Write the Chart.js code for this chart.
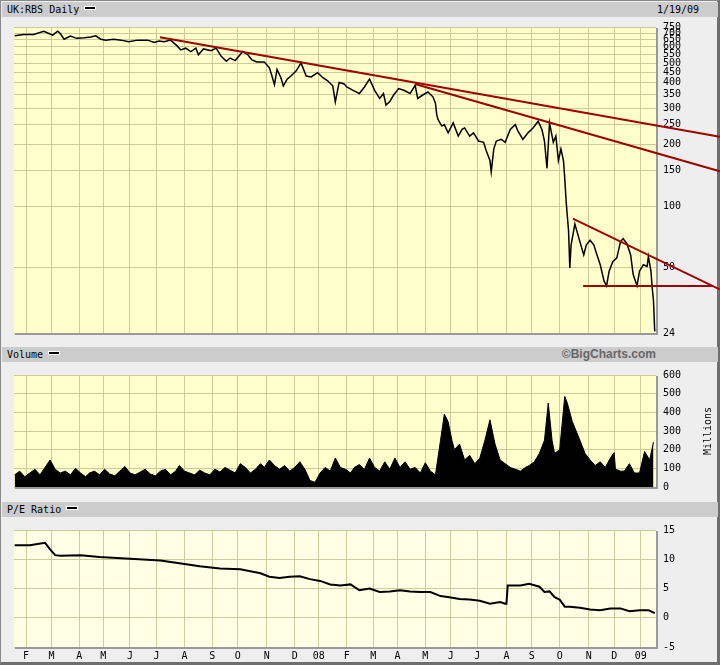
<!DOCTYPE html>
<html>
<head>
<meta charset="utf-8">
<script src="https://cdn.jsdelivr.net/npm/chart.js@4.4.0/dist/chart.umd.min.js"></script>
<style>
  html, body { margin: 0; padding: 0; background: #eeeeee; }
  #wrap { position: relative; width: 720px; height: 665px; overflow: hidden; background: #eeeeee; }
  #frame { position: absolute; left: 0; top: 0; width: 716px; height: 661px;
           border-top: 1px solid #8a8a8a; border-left: 1px solid #8a8a8a;
           border-right: 3px solid #6e6e6e; border-bottom: 3px solid #6e6e6e; }
  .bar { position: absolute; left: 2px; width: 716px; height: 15px; background: #cccccc;
         font: 10px "DejaVu Sans Mono", monospace; color: #000; line-height: 15px; }
  .bar .t { position: absolute; left: 5px; top: 0; white-space: pre; }
  .key { display: inline-block; width: 10px; height: 2px; background: #000; border: 1px solid #fff;
         vertical-align: 3px; margin-left: 5px; }
  .bar .r { position: absolute; top: 0; }
  .brand { font: bold 12px "Liberation Sans", Arial, sans-serif; color: #666; right: 62px; }
  canvas { position: absolute; left: 0; }
</style>
</head>
<body>
<div id="wrap">
  <div id="frame"></div>
  <div class="bar" style="top:2px"><span class="t">UK:RBS Daily<span class="key"></span></span><span class="r" style="left:655px">1/19/09</span></div>
  <canvas id="price" width="720" height="332" style="top:14px"></canvas>
  <div class="bar" style="top:347px"><span class="t">Volume<span class="key"></span></span><span class="r brand">©BigCharts.com</span></div>
  <canvas id="volume" width="720" height="138" style="top:362px"></canvas>
  <div class="bar" style="top:502px"><span class="t">P/E Ratio<span class="key"></span></span></div>
  <canvas id="pe" width="720" height="148" style="top:517px"></canvas>
</div>
<script>
// x axis = trading-day index, 0 = 18 Jan 2007, 506 = 19 Jan 2009
const monthIdx = [10, 30, 52, 71, 92, 113, 135, 157, 177, 200, 222, 241, 263, 284, 303, 325, 345, 366, 389, 409, 431, 454, 474, 495];
const monthLabels = ['F', 'M', 'A', 'M', 'J', 'J', 'A', 'S', 'O', 'N', 'D', '08', 'F', 'M', 'A', 'M', 'J', 'J', 'A', 'S', 'O', 'N', 'D', '09'];

const priceTicks = [24, 50, 100, 150, 200, 250, 300, 350, 400, 450, 500, 550, 600, 650, 700, 750];

const priceIdx = [1, 8, 16, 24, 28, 31, 35, 37, 40, 45, 50, 56, 61, 65, 69, 73, 79, 85, 91, 98, 106, 111, 115, 119, 124,
  129, 132, 136, 140, 144, 146, 150, 156, 160, 164, 168, 171, 175, 181, 185, 188, 192, 198, 202, 204, 206, 208, 211, 213,
  216, 219, 223, 227, 231, 235, 240, 244, 248, 252, 254, 257, 261, 263, 268, 273, 277, 281, 285, 289, 292, 294, 297, 300,
  304, 308, 313, 317, 319, 323, 327, 331, 333, 334, 335, 338, 340, 343, 347, 351, 354, 356, 360, 363, 367, 371, 373, 376,
  377, 379, 381, 385, 388, 392, 396, 398, 402, 406, 410, 414, 417, 419, 421, 423, 426, 428, 430, 432, 434, 435, 436, 437,
  438, 439, 440, 443, 447, 450, 452, 455, 458, 460, 463, 466, 468, 470, 473, 476, 479, 481, 484, 487, 489, 492, 494, 497,
  500, 501, 503, 504, 505, 506];
const priceVal = [679, 689, 689, 715, 697, 684, 715, 697, 654, 677, 660, 664, 671, 679, 654, 647, 654, 647, 635, 647, 647, 631, 640, 635, 647,
  608, 580, 591, 569, 591, 549, 586, 574, 591, 539, 510, 529, 514, 569, 549, 520, 506, 506, 474, 432, 392, 465, 425, 387,
  417, 432, 457, 501, 432, 428, 449, 425, 409, 387, 323, 402, 395, 382, 368, 355, 382, 418, 368, 336, 355, 312, 324, 349,
  375, 368, 355, 389, 336, 349, 361, 342, 318, 280, 265, 246, 250, 228, 255, 220, 237, 241, 220, 228, 208, 205, 187, 167,
  147, 190, 208, 212, 205, 237, 250, 233, 212, 228, 241, 260, 237, 208, 153, 255, 205, 220, 167, 190, 167, 137, 108, 89.7,
  76, 49.9, 64.5, 81.8, 66.9, 57.7, 64.5, 68.1, 64.5, 58.8, 51.7, 43.1, 40.8, 48.1, 53.7, 55.7, 66.9, 69.4, 65.7, 57.7,
  46.3, 40.8, 48.1, 51.7, 50.8, 56.7, 48.1, 40, 34.6, 24.4];

// trend lines drawn on the chart: [startIdx, startPrice, endIdx, endPrice]
const trendA = [115.7, 669, 557.3, 218];
const trendB = [316.8, 395, 557.3, 148];
const trendC = [441.4, 86.9, 557.3, 39.2];
const supportLine = [449.5, 40.7, 552, 40.7];

const volTicks = [0, 100, 200, 300, 400, 500, 600];
const volIdx = [1, 5, 9, 13, 17, 21, 25, 29, 33, 37, 41, 45, 49, 53, 57, 60, 64, 68, 72, 76, 80, 84, 88, 92, 96, 100,
  104, 108, 112, 116, 120, 124, 128, 131, 135, 139, 143, 147, 151, 155, 159, 163, 167, 171, 175, 179, 183, 187, 191, 195,
  198, 202, 206, 210, 214, 218, 222, 226, 230, 234, 238, 242, 246, 250, 254, 258, 262, 266, 269, 273, 277, 281, 285, 289,
  293, 297, 301, 305, 309, 313, 317, 321, 325, 329, 333, 337, 340, 343, 346, 348, 352, 356, 360, 364, 368, 372, 376, 380,
  384, 388, 392, 396, 400, 404, 407, 411, 415, 419, 422, 425, 427, 431, 435, 437, 441, 444, 447, 451, 455, 459, 463, 467,
  471, 474, 475, 479, 482, 486, 490, 494, 498, 502, 505];
const volVal = [65, 85, 55, 75, 95, 65, 105, 145, 95, 75, 85, 65, 100, 75, 55, 75, 85, 65, 95, 70, 60, 85, 110, 75, 65, 80,
  95, 70, 60, 85, 95, 65, 85, 115, 85, 75, 65, 90, 75, 65, 95, 80, 105, 90, 75, 125, 105, 75, 95, 125,
  105, 145, 115, 95, 115, 85, 105, 135, 95, 35, 25, 75, 105, 85, 155, 105, 95, 75, 105, 120, 95, 155, 105, 85,
  135, 95, 155, 105, 135, 95, 105, 75, 130, 85, 65, 250, 390, 350, 250, 200, 230, 145, 170, 125, 155, 250, 360, 230,
  145, 125, 105, 95, 85, 105, 115, 135, 180, 250, 450, 250, 180, 200, 485, 450, 350, 300, 250, 180, 145, 115, 135, 105,
  155, 185, 95, 85, 85, 125, 75, 75, 190, 145, 240];

const peTicks = [-5, 0, 5, 10, 15];
const peIdx = [1, 13, 25, 29, 33, 37, 53, 68, 92, 116, 131, 147, 163, 179, 195, 202, 210, 218, 226, 234, 242, 250, 258,
  266, 273, 281, 289, 297, 305, 313, 321, 329, 337, 344, 352, 360, 368, 376, 384, 388, 389, 390, 400, 407, 415, 419, 423,
  427, 431, 435, 439, 447, 455, 463, 471, 479, 486, 494, 501, 506];
const peVal = [12.4, 12.4, 12.8, 11.7, 10.7, 10.6, 10.7, 10.4, 10.1, 9.8, 9.3, 8.8, 8.4, 8.3, 7.6, 7.0, 6.8, 7.0, 7.1, 6.6,
  6.3, 5.7, 5.5, 5.7, 4.7, 5.0, 4.4, 4.5, 4.7, 4.5, 4.4, 4.4, 3.7, 3.5, 3.2, 3.1, 2.9, 2.4, 2.7, 2.4, 2.4, 5.5, 5.5, 5.8,
  5.3, 4.4, 4.5, 3.5, 3.1, 1.9, 1.9, 1.7, 1.4, 1.3, 1.6, 1.6, 1.1, 1.3, 1.3, 0.8];

const gridColor = '#cccc99';
const plotYellow = '#ffffcc';
const plotPale = '#ffffe6';
const trendRed = '#a00000';
const tickFont = { family: 'DejaVu Sans Mono', size: 10 };

const toXY = (xs, ys) => xs.map((x, i) => ({ x: x, y: ys[i] }));
const segment = s => [{ x: s[0], y: s[1] }, { x: s[2], y: s[3] }];

// fills the plot area and draws the grey shadow on the right and bottom edge
const panelBg = {
  id: 'panelBg',
  beforeDraw(chart, args, opts) {
    const { ctx, chartArea: a } = chart;
    ctx.save();
    ctx.fillStyle = opts.color;
    ctx.fillRect(a.left, a.top, a.right - a.left, a.bottom - a.top);
    ctx.restore();
  },
  beforeDatasetsDraw(chart) {
    const { ctx, chartArea: a } = chart;
    ctx.save();
    ctx.strokeStyle = '#999999';
    ctx.lineWidth = 2;
    ctx.beginPath();
    ctx.moveTo(a.right + 1, a.top + 1);
    ctx.lineTo(a.right + 1, a.bottom + 1);
    ctx.lineTo(a.left + 1, a.bottom + 1);
    ctx.stroke();
    ctx.restore();
  }
};

const sideTitle = {
  id: 'sideTitle',
  afterDraw(chart, args, opts) {
    if (!opts.text) return;
    const { ctx, chartArea: a } = chart;
    ctx.save();
    ctx.translate(708, (a.top + a.bottom) / 2);
    ctx.rotate(-Math.PI / 2);
    ctx.font = '10px "DejaVu Sans Mono"';
    ctx.fillStyle = '#000';
    ctx.textAlign = 'center';
    ctx.textBaseline = 'middle';
    ctx.fillText(opts.text, 0, 0);
    ctx.restore();
  }
};

function monthAxis(showLabels) {
  return {
    type: 'linear',
    min: 0.5,
    max: 507,
    afterBuildTicks: s => { s.ticks = monthIdx.map(v => ({ value: v })); },
    ticks: {
      display: showLabels, autoSkip: false, maxRotation: 0, padding: 3,
      font: tickFont, color: '#000',
      callback: (v, i) => monthLabels[i]
    },
    grid: { color: gridColor, drawTicks: false },
    border: { display: false },
    afterFit: s => { s.height = showLabels ? 18 : 0; }
  };
}

function valueAxis(extra) {
  return Object.assign({
    position: 'right',
    ticks: { autoSkip: false, padding: 7, font: tickFont, color: '#000' },
    grid: { color: gridColor, drawTicks: false },
    border: { display: false },
    afterFit: s => { s.width = 64; }
  }, extra);
}

const baseOptions = (padTop, padBottom, bg) => ({
  responsive: false,
  animation: false,
  devicePixelRatio: 1,
  events: [],
  layout: { padding: { left: 14, right: 0, top: padTop, bottom: padBottom } },
  plugins: { legend: { display: false }, tooltip: { enabled: false }, panelBg: { color: bg } }
});

const trendStyle = { borderColor: trendRed, borderWidth: 2, pointRadius: 0, clip: false, order: 0 };

new Chart(document.getElementById('price'), {
  type: 'line',
  data: {
    datasets: [
      { data: toXY(priceIdx, priceVal), borderColor: '#000', borderWidth: 1.5, pointRadius: 0, tension: 0, order: 1 },
      Object.assign({ data: segment(trendA) }, trendStyle),
      Object.assign({ data: segment(trendB) }, trendStyle),
      Object.assign({ data: segment(trendC) }, trendStyle),
      Object.assign({ data: segment(supportLine) }, trendStyle)
    ]
  },
  options: Object.assign(baseOptions(10, 9, plotYellow), {
    scales: {
      x: monthAxis(false),
      y: valueAxis({
        type: 'logarithmic', min: 24, max: 750,
        afterBuildTicks: s => { s.ticks = priceTicks.map(v => ({ value: v })); },
        ticks: { autoSkip: false, padding: 7, font: tickFont, color: '#000', callback: v => String(v) }
      })
    }
  }),
  plugins: [panelBg]
});

new Chart(document.getElementById('volume'), {
  type: 'line',
  data: {
    datasets: [{
      data: toXY(volIdx, volVal), borderColor: '#000', backgroundColor: '#000',
      borderWidth: 1, pointRadius: 0, tension: 0, fill: 'origin'
    }]
  },
  options: Object.assign(baseOptions(7, 9, plotYellow), {
    scales: {
      x: monthAxis(false),
      y: valueAxis({
        type: 'linear', min: 0, max: 600,
        afterBuildTicks: s => { s.ticks = volTicks.map(v => ({ value: v })); }
      })
    },
    plugins: { legend: { display: false }, tooltip: { enabled: false }, panelBg: { color: plotYellow }, sideTitle: { text: 'Millions' } }
  }),
  plugins: [panelBg, sideTitle]
});

new Chart(document.getElementById('pe'), {
  type: 'line',
  data: {
    datasets: [{
      data: toXY(peIdx, peVal), borderColor: '#000', borderWidth: 2, pointRadius: 0, tension: 0
    }]
  },
  options: Object.assign(baseOptions(7, 0, plotPale), {
    scales: {
      x: monthAxis(true),
      y: valueAxis({
        type: 'linear', min: -5, max: 15,
        afterBuildTicks: s => { s.ticks = peTicks.map(v => ({ value: v })); }
      })
    }
  }),
  plugins: [panelBg]
});
</script>
</body>
</html>
